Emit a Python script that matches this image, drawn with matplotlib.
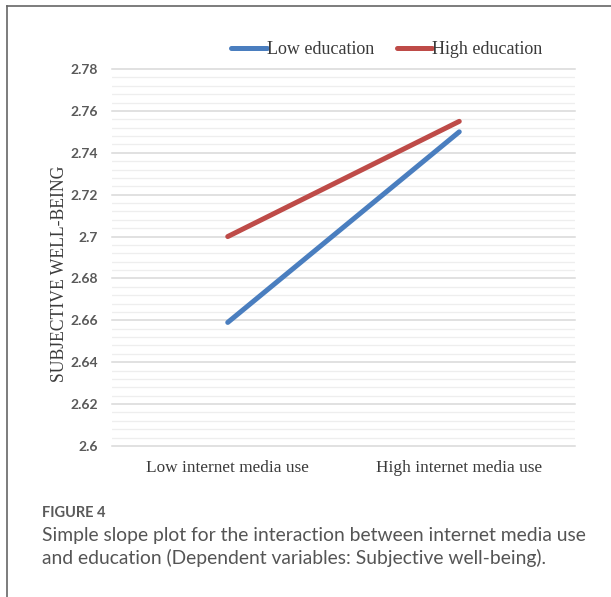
import matplotlib
matplotlib.use("Agg")
import matplotlib.pyplot as plt
from matplotlib.lines import Line2D
import numpy as np

categories = ["Low internet media use", "High internet media use"]
low_education = [2.659, 2.750]
high_education = [2.700, 2.755]
series_names = ["Low education", "High education"]
series_colors = ["#4A7EBF", "#BE4B48"]
y_ticks = [2.6, 2.62, 2.64, 2.66, 2.68, 2.7, 2.72, 2.74, 2.76, 2.78]
y_tick_labels = ["2.6", "2.62", "2.64", "2.66", "2.68", "2.7", "2.72", "2.74", "2.76", "2.78"]

W, H = 611, 597
fig = plt.figure(figsize=(W / 100, H / 100), dpi=100)

# outer frame (top and left edges visible)
fig.add_artist(Line2D([7 / W, 1.0], [1 - 6 / H, 1 - 6 / H], color="#666666", lw=1.2))
fig.add_artist(Line2D([7 / W, 7 / W], [0.0, 1 - 6 / H], color="#666666", lw=1.2))

ax = fig.add_axes([112 / W, 1 - 446 / H, (575 - 112) / W, (446 - 69) / H])
x = np.arange(len(categories))
ax.plot(x, low_education, color=series_colors[0], lw=3.6, solid_capstyle="round", label=series_names[0], zorder=3)
ax.plot(x, high_education, color=series_colors[1], lw=3.6, solid_capstyle="round", label=series_names[1], zorder=3)

ax.set_xlim(-0.5, 1.5)
ax.set_ylim(2.6, 2.78)
ax.set_yticks(y_ticks)
ax.set_yticklabels(y_tick_labels, family="Lato", fontweight="bold", fontsize=10, color="#595959")
ax.set_yticks(np.arange(2.6, 2.7801, 0.004), minor=True)
ax.set_xticks(x)
ax.set_xticklabels(categories, family="Liberation Serif", fontsize=12.4, color="#3a3a3a")
ax.tick_params(axis="both", which="both", length=0)
ax.tick_params(axis="y", pad=10)
ax.tick_params(axis="x", pad=10)
ax.grid(axis="y", which="major", color="#D9D9D9", lw=1.1, zorder=0)
ax.grid(axis="y", which="minor", color="#EEEEEE", lw=0.9, zorder=0)
for gl in ax.get_ygridlines():
    gl.set_clip_on(False)
for s in ax.spines.values():
    s.set_visible(False)

fig.text(60 / W, 1 - 274 / H, "SUBJECTIVE WELL-BEING", rotation=90, ha="center", va="center",
         family="Liberation Serif", fontsize=12.7, color="#3a3a3a")

leg = ax.legend(loc="center", bbox_to_anchor=(387 / W, 1 - 50 / H), bbox_transform=fig.transFigure,
                ncol=2, frameon=False, handlelength=1.95, handletextpad=0.0, columnspacing=1.3,
                prop={"family": "Liberation Serif", "size": 13})
for t in leg.get_texts():
    t.set_color("#3a3a3a")

fig.text(42 / W, 1 - 513 / H, "FIGURE 4", family="Lato", fontweight="bold", fontsize=10.5,
         color="#5a5a5a", va="center", ha="left")
fig.text(42 / W, 1 - 536 / H, "Simple slope plot for the interaction between internet media use",
         family="Lato", fontsize=13.9, color="#555555", va="center", ha="left")
fig.text(42 / W, 1 - 558 / H, "and education (Dependent variables: Subjective well-being).",
         family="Lato", fontsize=13.9, color="#555555", va="center", ha="left")

fig.savefig("out.png", dpi=100)
